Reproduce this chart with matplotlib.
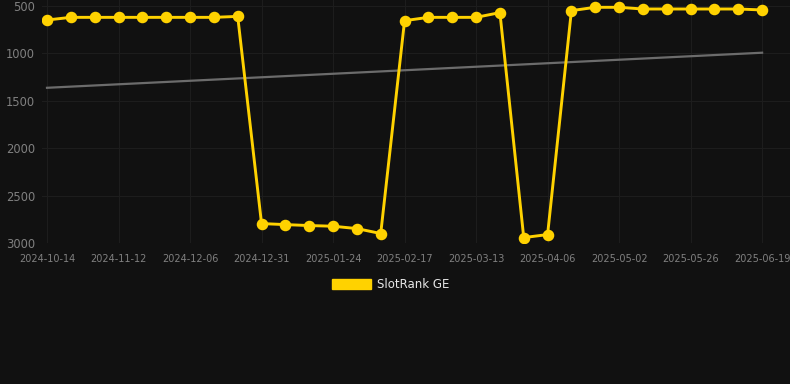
import matplotlib
matplotlib.use("Agg")
import matplotlib.pyplot as plt
from matplotlib.patches import Patch

# ranks per observation (lower is better, axis inverted)
ranks = [648, 620, 620, 620, 620, 620, 620, 620, 610,
         2795, 2806, 2816, 2823, 2848, 2900,
         655, 620, 620, 620, 570,
         2943, 2911,
         549, 514, 514, 532, 532, 532, 532, 532, 542]
trend_x = [0, 30]
trend_y = [1363, 993]

tick_labels = ['2024-10-14', '2024-11-12', '2024-12-06', '2024-12-31', '2025-01-24',
               '2025-02-17', '2025-03-13', '2025-04-06', '2025-05-02', '2025-05-26',
               '2025-06-19']
y_ticks = [500, 1000, 1500, 2000, 2500, 3000]

bg = '#111111'
gold = '#FFD200'

fig = plt.figure(figsize=(7.9, 3.84), dpi=100, facecolor=bg)
ax = fig.add_axes([42 / 790, 141 / 384, 748 / 790, 243 / 384], facecolor=bg)

x = list(range(len(ranks)))
ax.plot(trend_x, trend_y, color='#6c6c6c', lw=1.6, zorder=2)
ax.plot(x, ranks, color=gold, lw=2.1, marker='o', markersize=7.3, zorder=3)

ax.set_ylim(3000, 437)
ax.set_xlim(-0.21, 31.17)
ax.set_yticks(y_ticks)
ax.set_xticks(x[::3])
ax.set_xticklabels(tick_labels)

ax.grid(True, color='#1d1d1d', lw=0.8)
ax.set_axisbelow(True)
for s in ax.spines.values():
    s.set_visible(False)
ax.tick_params(axis='both', length=0, colors='#808080')
ax.tick_params(axis='y', labelsize=8.3, pad=5)
ax.tick_params(axis='x', labelsize=7, pad=8)

fig.legend(handles=[Patch(facecolor=gold, edgecolor=gold)], labels=['SlotRank GE'],
           loc='center', bbox_to_anchor=(0.494, 0.259), frameon=False,
           handlelength=3.3, handleheight=0.95, handletextpad=0.5,
           fontsize=8.5, labelcolor='#e6e6e6')

fig.savefig('out.png', dpi=100, facecolor=bg)
